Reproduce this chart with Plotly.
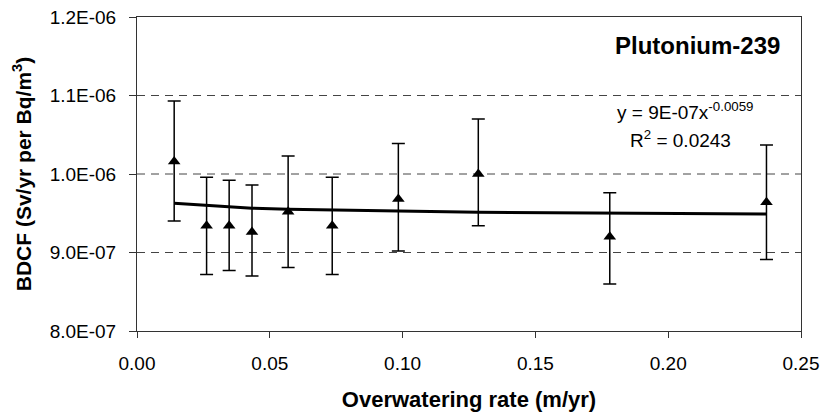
import plotly.graph_objects as go

# Data
rate = [0.014, 0.0262, 0.0347, 0.0433, 0.0569, 0.0735, 0.0984, 0.1285, 0.178, 0.237]
bdcf = [1.016e-6, 0.934e-6, 0.934e-6, 0.926e-6, 0.952e-6, 0.934e-6, 0.968e-6, 1.000e-6, 0.920e-6, 0.964e-6]
err_hi = [1.093e-6, 0.996e-6, 0.992e-6, 0.986e-6, 1.023e-6, 0.996e-6, 1.039e-6, 1.070e-6, 0.976e-6, 1.037e-6]
err_lo = [0.940e-6, 0.872e-6, 0.877e-6, 0.870e-6, 0.881e-6, 0.872e-6, 0.902e-6, 0.934e-6, 0.860e-6, 0.891e-6]

trend_x = [0.014, 0.0262, 0.0347, 0.0433, 0.0569, 0.0735, 0.0984, 0.1285, 0.178, 0.237]
trend_y = [0.9627e-6, 0.9600e-6, 0.9584e-6, 0.9565e-6, 0.9552e-6, 0.9545e-6, 0.9530e-6, 0.9512e-6, 0.9500e-6, 0.9490e-6]

y_ticks = [8.0e-7, 9.0e-7, 1.0e-6, 1.1e-6, 1.2e-6]
y_tick_labels = ["8.0E-07", "9.0E-07", "1.0E-06", "1.1E-06", "1.2E-06"]
x_ticks = [0.0, 0.05, 0.10, 0.15, 0.20, 0.25]
x_tick_labels = ["0.00", "0.05", "0.10", "0.15", "0.20", "0.25"]
grid_y = [9.0e-7, 1.0e-6, 1.1e-6]

plus = [h - v for h, v in zip(err_hi, bdcf)]
minus = [v - l for v, l in zip(bdcf, err_lo)]

FONT = "Liberation Sans, Arial, sans-serif"

fig = go.Figure()
fig.add_trace(go.Scatter(
    x=trend_x, y=trend_y, mode="lines",
    line=dict(color="black", width=3), hoverinfo="skip", showlegend=False))
fig.add_trace(go.Scatter(
    x=rate, y=bdcf, mode="markers",
    marker=dict(symbol="triangle-up", size=11, color="black"),
    error_y=dict(type="data", symmetric=False, array=plus, arrayminus=minus,
                 color="black", thickness=1.5, width=6.5),
    showlegend=False))

for g in grid_y:
    fig.add_shape(type="line", xref="paper", x0=0, x1=1, yref="y", y0=g, y1=g,
                  line=dict(color="#444", width=1, dash="8px,6px"), layer="below")

fig.add_annotation(text="<b>Plutonium-239</b>", xref="paper", yref="paper",
                   x=0.971, y=0.908, xanchor="right", yanchor="middle", showarrow=False,
                   font=dict(family=FONT, size=24, color="black"))
fig.add_annotation(text="y = 9E-07x<sup>-0.0059</sup>", xref="paper", yref="paper",
                   x=0.931, y=0.70, xanchor="right", yanchor="middle", showarrow=False,
                   font=dict(family=FONT, size=19, color="black"))
fig.add_annotation(text="R<sup>2</sup> = 0.0243", xref="paper", yref="paper",
                   x=0.898, y=0.612, xanchor="right", yanchor="middle", showarrow=False,
                   font=dict(family=FONT, size=19, color="black"))

fig.update_layout(
    width=835, height=413,
    margin=dict(l=137, r=34, t=17, b=82),
    paper_bgcolor="white", plot_bgcolor="white",
    font=dict(family=FONT, size=19, color="black"),
    xaxis=dict(range=[0, 0.25], tickvals=x_ticks, ticktext=x_tick_labels,
               showgrid=False, zeroline=False, showline=True, linecolor="#333",
               linewidth=1, mirror=True, ticks="outside", ticklen=6, tickcolor="#333",
               automargin=False, tickfont=dict(size=19), ticklabelstandoff=9,
               title=dict(text="<b>Overwatering rate (m/yr)</b>", font=dict(size=22), standoff=18)),
    yaxis=dict(range=[8.0e-7, 1.2e-6], tickvals=y_ticks, ticktext=y_tick_labels,
               showgrid=False, zeroline=False, showline=True, linecolor="#333",
               linewidth=1, mirror=True, ticks="outside", ticklen=7, tickcolor="#333",
               automargin=False, tickfont=dict(size=19), ticklabelstandoff=9,
               title=dict(text="<b>BDCF (Sv/yr per Bq/m<sup>3</sup>)</b>", font=dict(size=21), standoff=12)),
)

fig.write_html("out.html", config={"displayModeBar": False},
               post_script="document.body.style.margin='0';")
